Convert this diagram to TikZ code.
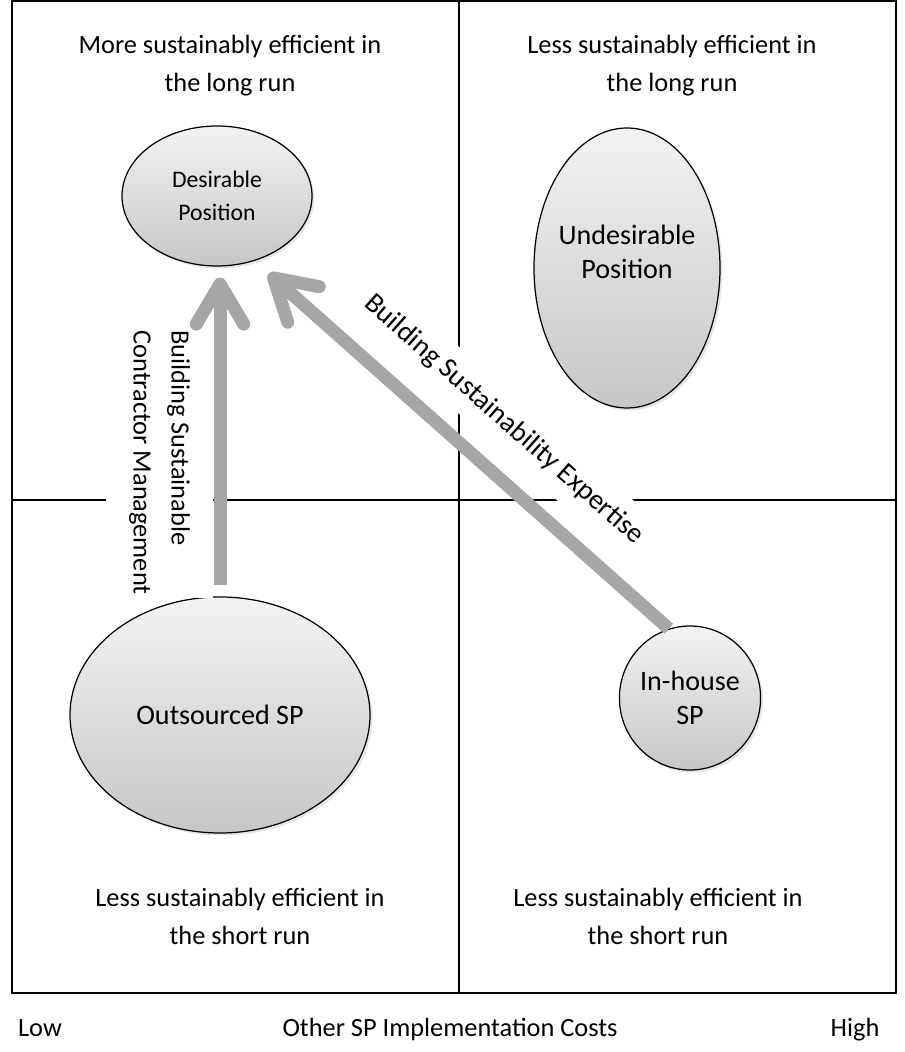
\documentclass[tikz,border=0pt]{standalone}
\usepackage{fontspec}
\setmainfont{Carlito}
\usetikzlibrary{shapes.geometric,arrows.meta,shadows}

\begin{document}
\begin{tikzpicture}[
    blob/.style={ellipse, draw=black, line width=0.7pt, inner sep=0pt,
        top color=black!5, bottom color=black!22,
        drop shadow={opacity=0.2, shadow xshift=0.05cm, shadow yshift=-0.05cm}},
    movearrow/.style={draw=arrow_gray, line width=0.26cm,
        -{Straight Barb[length=0.8cm, width=0.95cm, round]}},
    lbl/.style={font=\fontsize{15}{21.5}\selectfont, align=center},
    biglbl/.style={font=\fontsize{16}{19.5}\selectfont, align=center},
]
    \definecolor{arrow_gray}{HTML}{A6A6A6}
    %\draw[help lines] (0,0) grid (18,21);
    \useasboundingbox (0,0) rectangle (18.10,21.04);
    \draw[line width=0.8pt] (0.24,1.18) rectangle (17.92,21.02);
    \draw[line width=0.8pt] (9.18,1.18) -- (9.18,21.02);
    \draw[line width=0.8pt] (0.24,11.04) -- (17.92,11.04);

    \node[lbl] (tltext) at (4.60,19.72) {More sustainably efficient in\\the long run};
    \node[lbl] (trtext) at (13.44,19.72) {Less sustainably efficient in\\the long run};
    \node[lbl] (bltext) at (4.80,2.71) {Less sustainably efficient in\\the short run};
    \node[lbl] (brtext) at (13.16,2.71) {Less sustainably efficient in\\the short run};

    \node[blob, minimum width=3.8cm, minimum height=2.8cm,
        font=\fontsize{13.5}{19}\selectfont, align=center] (desire) at (4.34,17.12) {Desirable\\Position};
    \node[blob, minimum width=3.72cm, minimum height=5.6cm] (undesire) at (12.54,15.68) {};
    \node[biglbl] (undesiretext) at (12.54,16.00) {Undesirable\\Position};
    \node[blob, biglbl, minimum width=6.0cm, minimum height=4.72cm] (outsrc) at (4.40,6.74) {Outsourced SP};
    \node[blob, biglbl, minimum width=2.72cm, minimum height=2.88cm] (inhouse) at (13.80,7.08) {In-house\\SP};

    \node[lbl, anchor=base] (lowlbl) at (0.80,0.30) {Low};
    \node[lbl, anchor=base] (costlbl) at (9.00,0.30) {Other SP Implementation Costs};
    \node[lbl, anchor=base] (highlbl) at (17.10,0.30) {High};

    \node[lbl, align=left, rotate=-90, fill=white, inner ysep=0.46cm, inner xsep=2pt] (mgmtlbl) at (3.19,11.79)
        {Building Sustainable\\Contractor Management};
    \node[lbl, font=\fontsize{16}{19.5}\selectfont, rotate=-41.4, fill=white, inner ysep=0.26cm, inner xsep=2pt]
        (expertlbl) at (10.08,12.64) {Building Sustainability Expertise};

    \draw[movearrow, shorten <=0.22cm, shorten >=0.22cm] (outsrc.north) -- (outsrc.north |- desire.south);
    \draw[movearrow, shorten >=0.38cm] (inhouse.107) -- (desire.-60);

\end{tikzpicture}
\end{document}
